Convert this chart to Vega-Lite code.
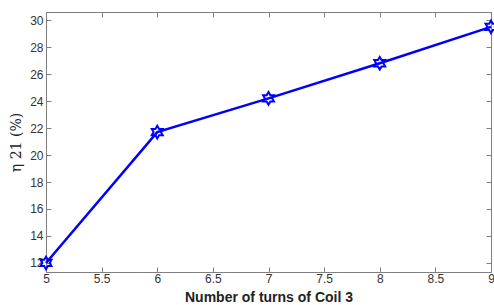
{
  "$schema": "https://vega.github.io/schema/vega-lite/v6.json",
  "autosize": {"type": "none"},
  "width": 445,
  "height": 260,
  "padding": {"left": 46, "top": 12, "right": 3, "bottom": 33},
  "background": "white",
  "config": {
    "view": {"stroke": "#7f7f7f", "strokeWidth": 1},
    "axis": {"domainColor": "#7f7f7f", "tickColor": "#7f7f7f", "labelColor": "#333333", "labelFont": "Liberation Sans", "labelFontSize": 12, "titleFont": "Liberation Sans", "grid": false}
  },
  "data": {"values": [
    {"turns": 5, "eta": 12.0},
    {"turns": 6, "eta": 21.7},
    {"turns": 7, "eta": 24.2},
    {"turns": 8, "eta": 26.8},
    {"turns": 9, "eta": 29.5}
  ]},
  "layer": [
    {
      "mark": {"type": "line", "color": "#0000ff", "strokeWidth": 2.5, "clip": false},
      "encoding": {
        "x": {"field": "turns", "type": "quantitative", "scale": {"domain": [5, 9], "nice": false, "zero": false},
          "axis": {"orient": "bottom", "values": [5, 5.5, 6, 6.5, 7, 7.5, 8, 8.5, 9], "format": "~g", "tickSize": -5, "labelPadding": 6, "title": "Number of turns of Coil 3", "titleFontSize": 14, "titleFontWeight": "bold", "titleColor": "#222222", "titleBaseline": "top", "titleY": 18, "labelFlush": false}},
        "y": {"field": "eta", "type": "quantitative", "scale": {"domain": [11.33, 30.6], "nice": false, "zero": false},
          "axis": {"orient": "left", "values": [12, 14, 16, 18, 20, 22, 24, 26, 28, 30], "tickSize": -5, "labelPadding": 8, "title": "η 21 (%)", "titleFont": "DejaVu Serif", "titleFontSize": 14, "titleFontWeight": "normal", "titleColor": "#222222", "titlePadding": 6}}
      }
    },
    {
      "mark": {"type": "point", "shape": "M0,-1L0.289,-0.5L0.866,-0.5L0.577,0L0.866,0.5L0.289,0.5L0,1L-0.289,0.5L-0.866,0.5L-0.577,0L-0.866,-0.5L-0.289,-0.5Z", "filled": false, "stroke": "#0000ff", "strokeWidth": 2, "size": 160, "opacity": 1, "clip": false},
      "encoding": {
        "x": {"field": "turns", "type": "quantitative", "axis": {"orient": "top", "values": [5, 5.5, 6, 6.5, 7, 7.5, 8, 8.5, 9], "tickSize": -5, "labels": false, "title": null}},
        "y": {"field": "eta", "type": "quantitative", "axis": {"orient": "right", "values": [12, 14, 16, 18, 20, 22, 24, 26, 28, 30], "tickSize": -5, "labels": false, "title": null}}
      }
    }
  ],
  "resolve": {"axis": {"x": "independent", "y": "independent"}}
}
